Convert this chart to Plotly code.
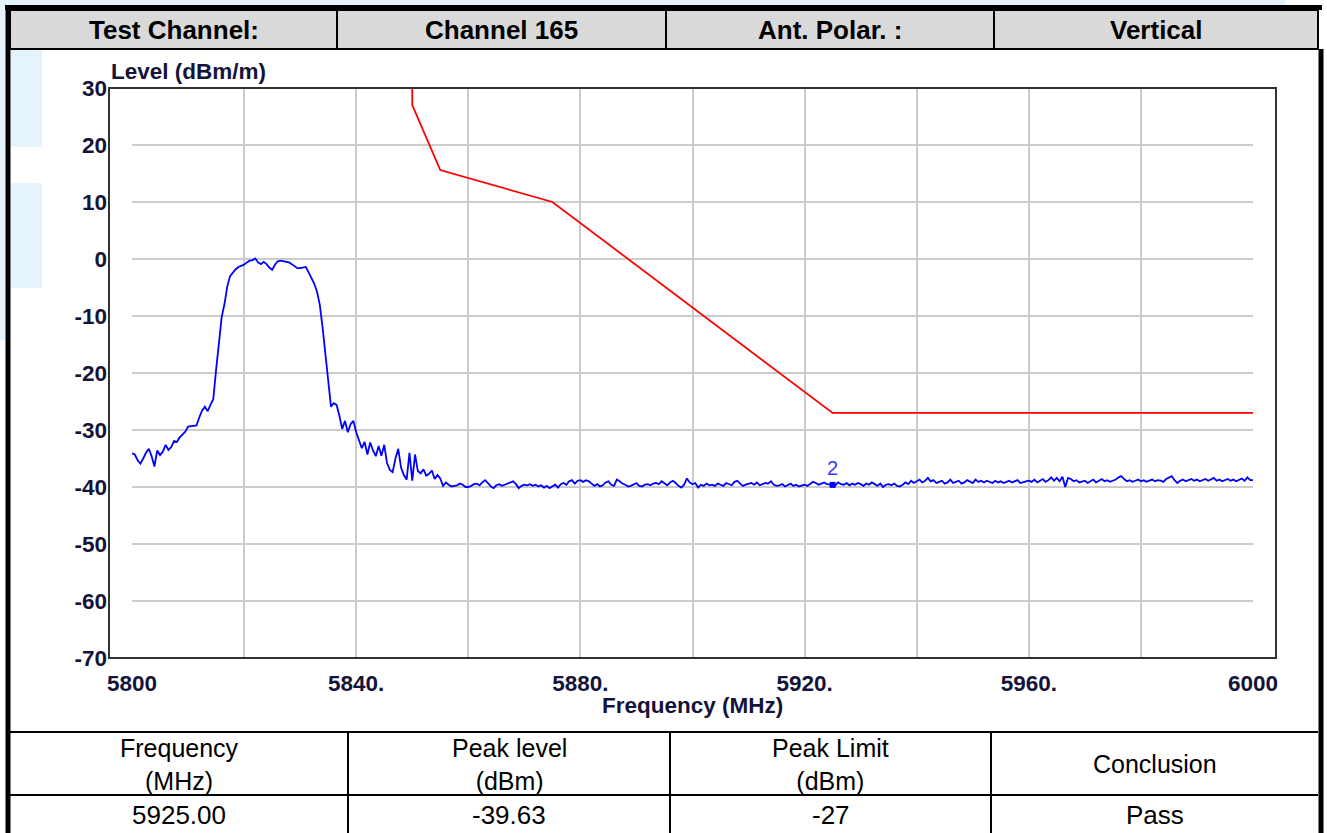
import plotly.graph_objects as go

W, H = 1327, 833
FONT = "Liberation Sans, Arial, sans-serif"

# ---------------- data ----------------
SWEEP_START = 5800.0
SWEEP_STEP = 0.5
level_rows = [
    [-34.1, -34.3, -35.3, -35.9, -35.0, -34.0, -33.3, -34.6, -36.4, -33.6, -34.4, -33.8, -32.6, -33.5, -33.0, -31.9, -32.1, -31.3, -30.8, -30.3],
    [-29.4, -29.3, -29.3, -29.2, -27.8, -26.6, -25.9, -26.7, -25.6, -24.6, -19.5, -15.0, -10.2, -7.9, -4.8, -3.0, -2.3, -1.8, -1.4, -1.2],
    [-1.0, -0.6, -0.3, -0.2, 0.1, -0.6, -0.9, -0.5, -0.9, -1.5, -1.9, -1.0, -0.4, -0.3, -0.4, -0.5, -0.6, -0.9, -1.2, -1.6],
    [-1.6, -1.5, -1.4, -2.3, -3.3, -4.3, -5.7, -8.0, -12.0, -16.5, -21.0, -25.9, -25.3, -25.6, -27.5, -29.8, -28.4, -30.4, -29.0, -28.4],
    [-30.4, -32.0, -33.2, -32.1, -34.3, -32.2, -33.6, -34.6, -32.8, -34.5, -32.6, -35.8, -37.0, -37.4, -35.0, -33.3, -36.6, -37.9, -38.7, -34.0],
    [-38.9, -34.3, -37.2, -37.6, -36.9, -38.0, -37.7, -37.1, -38.6, -37.9, -38.5, -39.8, -39.2, -39.6, -39.9, -39.8, -39.7, -39.4, -39.6, -40.0],
    [-40.0, -39.8, -39.5, -39.4, -39.7, -39.2, -38.8, -39.3, -39.9, -40.2, -39.7, -39.5, -39.8, -39.6, -39.4, -39.1, -39.0, -39.5, -40.2, -39.8],
    [-39.6, -39.7, -39.5, -39.8, -39.6, -39.9, -39.7, -40.1, -39.8, -40.2, -39.9, -39.6, -40.1, -39.5, -39.3, -39.6, -39.0, -38.8, -39.4, -38.9],
    [-38.8, -39.1, -38.8, -39.0, -39.4, -39.8, -39.5, -39.9, -39.7, -39.2, -39.0, -39.6, -39.8, -38.7, -39.0, -39.4, -39.6, -39.9, -39.8, -39.5],
    [-39.3, -39.8, -39.9, -39.6, -39.5, -39.7, -39.4, -39.3, -39.5, -39.0, -39.4, -39.7, -39.2, -38.9, -39.3, -39.8, -40.1, -39.6, -38.5, -39.2],
    [-39.5, -39.3, -40.1, -39.6, -39.8, -39.4, -39.7, -39.6, -39.8, -39.4, -39.6, -39.8, -39.3, -39.5, -39.7, -39.1, -38.9, -39.4, -39.8, -39.6],
    [-39.5, -39.3, -39.6, -39.2, -39.7, -39.5, -39.3, -39.4, -39.0, -39.6, -39.8, -39.7, -39.5, -39.9, -39.6, -39.4, -39.8, -39.6, -39.9, -39.7],
    [-39.6, -39.8, -39.4, -39.1, -39.3, -39.6, -39.4, -39.2, -39.5, -39.6, -39.63, -39.7, -39.2, -39.5, -39.6, -39.3, -39.7, -39.4, -39.6, -39.3],
    [-39.5, -39.8, -39.4, -39.6, -39.2, -39.5, -39.8, -39.4, -40.0, -39.6, -39.5, -39.7, -39.4, -39.8, -39.9, -39.6, -39.2, -39.5, -38.9, -39.3],
    [-39.0, -38.7, -39.2, -38.9, -38.4, -39.0, -38.8, -39.3, -39.1, -38.9, -39.4, -39.2, -38.7, -39.3, -39.1, -38.9, -39.4, -39.2, -38.8, -39.0],
    [-39.3, -38.7, -39.1, -38.9, -39.2, -38.9, -39.1, -39.3, -38.9, -39.2, -39.0, -39.3, -39.1, -38.9, -39.2, -39.0, -38.8, -39.3, -39.1, -39.0],
    [-38.9, -39.1, -38.7, -39.2, -38.9, -38.6, -39.1, -38.8, -38.3, -38.9, -38.4, -39.0, -38.2, -40.0, -38.4, -38.6, -39.0, -38.8, -39.2, -39.1],
    [-38.9, -39.3, -39.0, -38.7, -39.2, -38.9, -38.6, -39.0, -38.8, -39.1, -38.9, -38.7, -38.3, -38.1, -38.6, -39.0, -38.8, -39.1, -38.9, -38.7],
    [-39.0, -38.8, -39.1, -38.9, -38.7, -39.0, -38.8, -38.9, -39.1, -38.6, -38.3, -38.1, -38.8, -39.3, -38.9, -38.7, -39.0, -38.8, -38.6, -38.9],
    [-38.7, -39.0, -38.8, -38.6, -38.9, -38.7, -38.4, -38.9, -38.7, -39.0, -38.8, -38.6, -38.9, -38.7, -39.0, -38.8, -38.5, -38.9, -38.3, -38.8],
    [-38.8],
]
levels = [v for row in level_rows for v in row]
freqs = [SWEEP_START + SWEEP_STEP * i for i in range(len(levels))]

limit_freq = [5850, 5850, 5855, 5875, 5925, 6000]
limit_level = [30, 27, 15.6, 10, -27, -27]

marker_freq = [5925.00]
marker_level = [-39.63]
marker_label = ["2"]

x_tickvals = list(range(5800, 6001, 20))
x_ticktext = ["5800", "", "5840.", "", "5880.", "", "5920.", "", "5960.", "", "6000"]
y_tickvals = list(range(-70, 31, 10))
y_ticktext = [str(v) for v in y_tickvals]

header_labels = ["Test Channel:", "Channel 165", "Ant. Polar. :", "Vertical"]
result_headers = ["Frequency<br>(MHz)", "Peak level<br>(dBm)", "Peak Limit<br>(dBm)", "Conclusion"]
result_values = ["5925.00", "-39.63", "-27", "Pass"]

# ---------------- layout helpers (pixel -> paper) ----------------
def fx(px):
    return px / W

def fy(py):
    return 1 - py / H

PLOT_L, PLOT_R, PLOT_T, PLOT_B = 132, 1253, 88, 658
TXT = "#14143a"

fig = go.Figure()

fig.add_trace(go.Scatter(
    x=freqs, y=levels, mode="lines",
    line=dict(color="#0000ff", width=1.8), hoverinfo="skip"))
fig.add_trace(go.Scatter(
    x=limit_freq, y=limit_level, mode="lines",
    line=dict(color="#ff0000", width=1.8), hoverinfo="skip"))
fig.add_trace(go.Scatter(
    x=marker_freq, y=marker_level, mode="markers+text", text=marker_label,
    textposition="top center",
    textfont=dict(family=FONT, size=20, color="#3a3aff"),
    marker=dict(symbol="square", size=6, color="#0000ff"), hoverinfo="skip"))

shapes = []
LB = "#e4f3fc"
for (x0, y0, x1, y1) in [(0, 0, 1285, 5), (0, 0, 5, 340), (11, 50, 42, 147), (11, 183, 42, 288)]:
    shapes.append(dict(type="rect", xref="paper", yref="paper", x0=fx(x0), y0=fy(y1), x1=fx(x1), y1=fy(y0),
                       fillcolor=LB, line=dict(width=0), layer="below"))

# header row
shapes.append(dict(type="rect", xref="paper", yref="paper", x0=fx(10), y0=fy(49), x1=fx(1318), y1=fy(10),
                   fillcolor="#d9d9d9", line=dict(color="black", width=2), layer="above"))
header_cols = [10, 337, 666, 994, 1318]
for xv in header_cols[1:-1]:
    shapes.append(dict(type="line", xref="paper", yref="paper", x0=fx(xv), x1=fx(xv), y0=fy(10), y1=fy(49),
                       line=dict(color="black", width=2), layer="above"))

# outer thick border
for (x0, y0, x1, y1) in [(8, 5, 8, 833), (5, 7.5, 1322, 7.5), (1321, 49, 1321, 833)]:
    shapes.append(dict(type="line", xref="paper", yref="paper", x0=fx(x0), x1=fx(x1), y0=fy(y0), y1=fy(y1),
                       line=dict(color="black", width=5), layer="above"))

# result table
result_cols = [10, 348, 670, 991, 1318]
for yv in [732, 795]:
    shapes.append(dict(type="line", xref="paper", yref="paper", x0=fx(10), x1=fx(1318), y0=fy(yv), y1=fy(yv),
                       line=dict(color="black", width=2), layer="above"))
for xv in result_cols[1:-1]:
    shapes.append(dict(type="line", xref="paper", yref="paper", x0=fx(xv), x1=fx(xv), y0=fy(732), y1=fy(833),
                       line=dict(color="black", width=2), layer="above"))

# chart frame
shapes.append(dict(type="rect", xref="paper", yref="paper", x0=fx(109), x1=fx(1276), y0=fy(658), y1=fy(88),
                   fillcolor="rgba(0,0,0,0)", line=dict(color="#333333", width=2), layer="above"))

annotations = []
for i, t in enumerate(header_labels):
    annotations.append(dict(xref="paper", yref="paper", x=fx((header_cols[i] + header_cols[i + 1]) / 2), y=fy(30),
                            text=t, showarrow=False, xanchor="center", yanchor="middle",
                            font=dict(family=FONT, size=26, color="black", weight="bold")))
for i, t in enumerate(result_headers):
    annotations.append(dict(xref="paper", yref="paper", x=fx((result_cols[i] + result_cols[i + 1]) / 2), y=fy(764),
                            text=t, showarrow=False, xanchor="center", yanchor="middle",
                            font=dict(family=FONT, size=25, color="black")))
for i, t in enumerate(result_values):
    annotations.append(dict(xref="paper", yref="paper", x=fx((result_cols[i] + result_cols[i + 1]) / 2), y=fy(815),
                            text=t, showarrow=False, xanchor="center", yanchor="middle",
                            font=dict(family=FONT, size=26, color="black")))
annotations.append(dict(xref="paper", yref="paper", x=fx(109), y=fy(72), text="Level (dBm/m)",
                        showarrow=False, xanchor="left", yanchor="middle",
                        font=dict(family=FONT, size=22.5, color=TXT, weight="bold")))
annotations.append(dict(xref="paper", yref="paper", x=fx(692), y=fy(705), text="Frequency (MHz)",
                        showarrow=False, xanchor="center", yanchor="middle",
                        font=dict(family=FONT, size=22.5, color=TXT, weight="bold")))

fig.update_layout(
    width=W, height=H, autosize=False,
    margin=dict(l=0, r=0, t=0, b=0, pad=0, autoexpand=False),
    paper_bgcolor="white", plot_bgcolor="white",
    showlegend=False,
    shapes=shapes, annotations=annotations,
    xaxis=dict(domain=[fx(PLOT_L), fx(PLOT_R)], range=[5800, 6000], automargin=False,
               tickmode="array", tickvals=x_tickvals, ticktext=x_ticktext,
               showgrid=True, gridcolor="#cccccc", gridwidth=2, zeroline=False, showline=False,
               ticks="", ticklabelstandoff=9,
               tickfont=dict(family=FONT, size=22.5, color=TXT, weight="bold")),
    yaxis=dict(domain=[fy(PLOT_B), fy(PLOT_T)], range=[-70, 30], automargin=False,
               tickmode="array", tickvals=y_tickvals, ticktext=y_ticktext,
               showgrid=True, gridcolor="#cccccc", gridwidth=2, zeroline=False, showline=False,
               ticks="", ticklabelstandoff=24,
               tickfont=dict(family=FONT, size=22.5, color=TXT, weight="bold")),
)

fig.write_html("out.html", config={"displayModeBar": False},
               post_script="document.body.style.margin='0';document.body.style.overflow='hidden';")
